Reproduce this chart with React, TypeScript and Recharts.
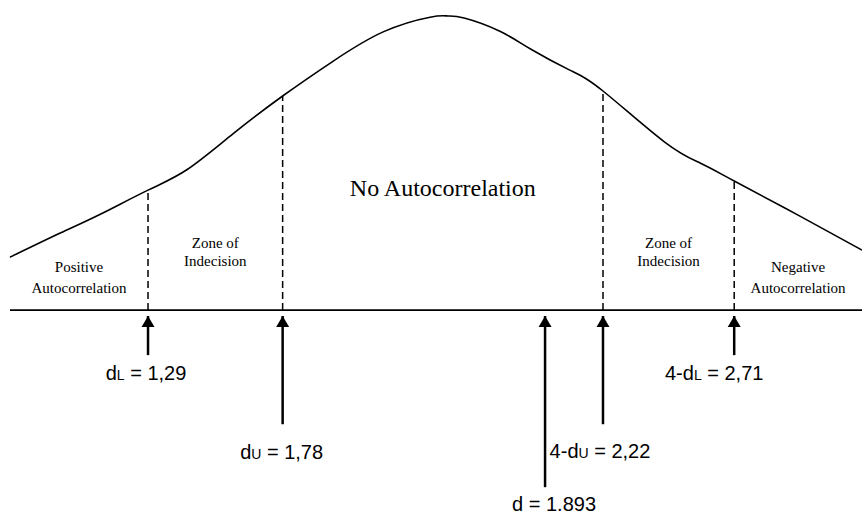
// App.tsx — Durbin-Watson decision diagram: bell curve, critical values and the test statistic.
import { ComposedChart, Line, ReferenceLine, Scatter, XAxis, YAxis } from "recharts";

const SERIF = "'Liberation Serif', 'Times New Roman', serif";
const SANS = "'Liberation Sans', Arial, sans-serif";

// curve: x runs 0–100 across the axis, y is 0 on the axis and 100 at the peak
const curveX = [0, 5.9, 10.6, 16.2, 20.8, 26.2, 32.0, 37.9, 43.8, 49.3, 51.4, 53.3, 57.5, 61.2, 65.7, 69.6, 76.8, 81.0, 85.0, 92.5, 100];
const curveY = [18.0, 26.2, 32.6, 40.8, 47.8, 60.0, 72.8, 84.6, 94.6, 99.6, 100, 99.3, 94.8, 88.6, 81.6, 74.5, 57.2, 50.0, 43.9, 32.3, 20.4];

// zone boundaries: dL, dU, 4-dU, 4-dL
const cutX = [16.2, 32.0, 69.6, 85.0];

const regionLines = [
  ["Positive", "Autocorrelation"],
  ["Zone of", "Indecision"],
  ["No Autocorrelation"],
  ["Zone of", "Indecision"],
  ["Negative", "Autocorrelation"],
];

// arrows under the axis: where they point and how far down they reach
const arrowX = [16.2, 32.0, 62.8, 69.6, 85.0];
const arrowEnd = [-15.3, -38.8, -60.2, -38.8, -15.3];
const arrowTip = -2;
const arrowHead = ["d", "d", "d", "4-d", "4-d"];
const arrowSub = ["L", "U", "", "U", "L"];
const arrowValue = ["1,29", "1,78", "1.893", "2,22", "2,71"];

const curve = curveX.map((x, i) => ({ x, y: curveY[i] }));
const bounds = [0, ...cutX, 100];
const regions = regionLines.map((lines, i) => ({ x: (bounds[i] + bounds[i + 1]) / 2, y: 0, lines, i }));
const heads = arrowX.map((x) => ({ x, y: arrowTip }));
const labels = arrowX.map((x, i) => ({ x, y: arrowEnd[i], i }));

const heightAt = (x: number) => curveY[curveX.indexOf(x)];

// pixel offsets for the text blocks (text baselines)
const REGION_DY = [[-38, -17], [-62, -44], [-114], [-62, -44], [-38, -17]];
const LABEL_NUDGE = [[-2, 25], [-1, 35], [9, 24], [-3, 34], [-20, 25]];

function RegionLabel(props: any) {
  const { cx, cy, payload } = props;
  const big = payload.lines.length === 1;
  return (
    <g>
      {payload.lines.map((t: string, k: number) => (
        <text
          key={k}
          x={cx}
          y={cy + REGION_DY[payload.i][k]}
          textAnchor="middle"
          fontFamily={SERIF}
          fontSize={big ? 24 : 15}
          fill="#000"
        >
          {t}
        </text>
      ))}
    </g>
  );
}

function ArrowHeadShape(props: any) {
  const { cx, cy } = props;
  return <polygon points={`${cx},${cy} ${cx - 6.5},${cy + 11} ${cx + 6.5},${cy + 11}`} fill="#000" />;
}

function ArrowLabel(props: any) {
  const { cx, cy, payload } = props;
  const i = payload.i;
  const [dx, dy] = LABEL_NUDGE[i];
  return (
    <text x={cx + dx} y={cy + dy} textAnchor="middle" fontFamily={SANS} fontSize={20} fill="#000">
      <tspan>{arrowHead[i]}</tspan>
      {arrowSub[i] && <tspan fontSize={14}>{arrowSub[i]}</tspan>}
      <tspan>{` = ${arrowValue[i]}`}</tspan>
    </text>
  );
}

export default function App() {
  return (
    <div style={{ position: "absolute", left: 0, top: 0, width: 862, height: 516, background: "#fff" }}>
      <ComposedChart width={862} height={516} data={curve} margin={{ top: 16, right: 0, bottom: 0, left: 10 }}>
        <XAxis dataKey="x" type="number" domain={[0, 100]} hide />
        <YAxis type="number" domain={[-70, 100]} hide />
        <ReferenceLine y={0} stroke="#000" strokeWidth={1.6} />
        {cutX.map((x) => (
          <ReferenceLine
            key={`cut-${x}`}
            segment={[{ x, y: 0 }, { x, y: heightAt(x) }]}
            stroke="#000"
            strokeWidth={1.5}
            strokeDasharray="7 4"
          />
        ))}
        {arrowX.map((x, i) => (
          <ReferenceLine
            key={`arrow-${i}`}
            segment={[{ x, y: arrowTip }, { x, y: arrowEnd[i] }]}
            stroke="#000"
            strokeWidth={2.5}
          />
        ))}
        <Line type="natural" dataKey="y" stroke="#000" strokeWidth={1.6} dot={false} isAnimationActive={false} />
        <Scatter data={heads} dataKey="y" shape={ArrowHeadShape} isAnimationActive={false} />
        <Scatter data={regions} dataKey="y" shape={RegionLabel} isAnimationActive={false} />
        <Scatter data={labels} dataKey="y" shape={ArrowLabel} isAnimationActive={false} />
      </ComposedChart>
    </div>
  );
}
